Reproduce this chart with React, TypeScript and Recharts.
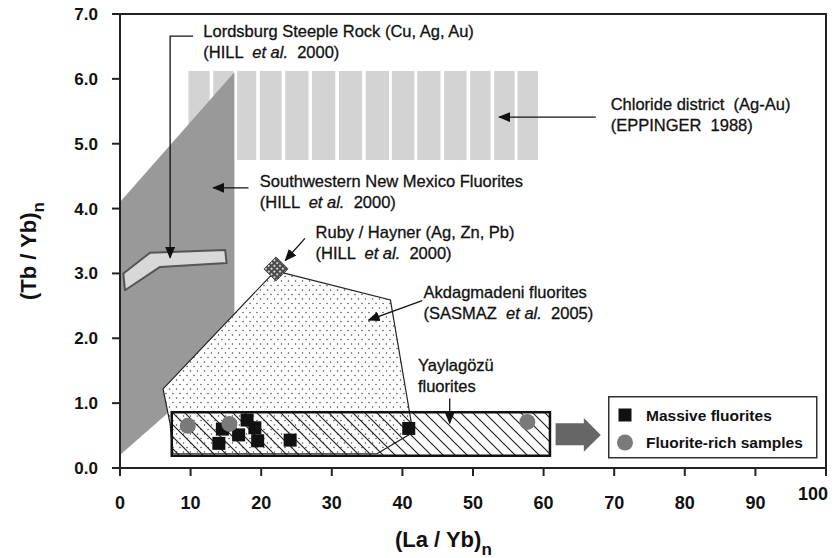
import React from "react";
import { ScatterChart, Scatter, XAxis, YAxis, Legend } from "recharts";

const FONT = "'Liberation Sans', Arial, Helvetica, sans-serif";

type Pt = { x: number; y: number };

const xTicks = [0, 10, 20, 30, 40, 50, 60, 70, 80, 90, 100];
const yTicks = [0, 1, 2, 3, 4, 5, 6, 7];

// Chloride district field: vertical bands, each one an (La/Yb) range
const chlorideBands: [number, number][] = [
  [9.7, 12.7], [13.2, 16.1], [16.6, 19.3], [19.8, 22.9], [23.4, 26.7],
  [27.2, 30.5], [31.0, 34.3], [34.8, 38.1], [38.5, 41.7], [42.1, 45.4],
  [45.9, 49.1], [49.6, 52.5], [53.0, 55.9], [56.3, 59.2],
];
const chlorideLow = 4.75;
const chlorideHigh = 6.12;

const swNewMexico: Pt[] = [
  { x: 0, y: 0.2 }, { x: 0, y: 4.1 }, { x: 16.2, y: 6.1 }, { x: 16.2, y: 1.75 },
];

const lordsburg: Pt[] = [
  { x: 0.47, y: 3.0 }, { x: 4.26, y: 3.32 }, { x: 14.9, y: 3.36 },
  { x: 15.1, y: 3.16 }, { x: 5.67, y: 3.1 }, { x: 0.71, y: 2.74 },
];

const akdagmadeni: Pt[] = [
  { x: 22.0, y: 3.04 }, { x: 38.3, y: 2.59 }, { x: 41.5, y: 0.55 },
  { x: 36.4, y: 0.22 }, { x: 7.5, y: 0.22 }, { x: 7.1, y: 0.68 }, { x: 6.1, y: 1.22 },
];

const yaylagozu: Pt[] = [
  { x: 7.33, y: 0.19 }, { x: 7.33, y: 0.86 }, { x: 60.9, y: 0.86 }, { x: 60.9, y: 0.19 },
];

const rubyHayner: Pt[] = [{ x: 22.1, y: 3.07 }];

const bigArrow: Pt[] = [
  { x: 61.7, y: 0.69 }, { x: 65.7, y: 0.69 }, { x: 65.7, y: 0.77 }, { x: 68.1, y: 0.51 },
  { x: 65.7, y: 0.25 }, { x: 65.7, y: 0.35 }, { x: 61.7, y: 0.35 },
];

const massive: Pt[] = [
  { x: 14.0, y: 0.38 }, { x: 14.5, y: 0.6 }, { x: 16.8, y: 0.51 }, { x: 18.0, y: 0.74 },
  { x: 19.1, y: 0.62 }, { x: 19.5, y: 0.42 }, { x: 24.1, y: 0.43 }, { x: 40.9, y: 0.61 },
];

const fluoriteRich: Pt[] = [
  { x: 9.6, y: 0.65 }, { x: 15.5, y: 0.68 }, { x: 57.7, y: 0.71 },
];

const pointers: Pt[][] = [
  [{ x: 10.35, y: 6.66 }, { x: 7.1, y: 6.66 }, { x: 7.1, y: 3.24 }],
  [{ x: 67.4, y: 5.41 }, { x: 53.7, y: 5.41 }],
  [{ x: 18.2, y: 4.32 }, { x: 13.2, y: 4.32 }],
  [{ x: 26.2, y: 3.54 }, { x: 23.4, y: 3.2 }],
  [{ x: 42.8, y: 2.58 }, { x: 35.2, y: 2.28 }],
  [{ x: 46.7, y: 1.07 }, { x: 46.7, y: 0.69 }],
];

// *...* marks italic
const notes = [
  { x: 11.8, y: 6.65, lines: ["Lordsburg Steeple Rock (Cu, Ag, Au)", "(HILL  *et al.*  2000)"] },
  { x: 69.5, y: 5.52, lines: ["Chloride district  (Ag-Au)", "(EPPINGER  1988)"] },
  { x: 19.8, y: 4.33, lines: ["Southwestern New Mexico Fluorites", "(HILL  *et al.*  2000)"] },
  { x: 27.7, y: 3.54, lines: ["Ruby / Hayner (Ag, Zn, Pb)", "(HILL  *et al.*  2000)"] },
  { x: 43.0, y: 2.62, lines: ["Akdagmadeni fluorites", "(SASMAZ  *et al.*  2005)"] },
  { x: 42.2, y: 1.5, lines: ["Yaylagözü", "fluorites"] },
];

const frame: Pt[] = [{ x: 0, y: 0 }, { x: 0, y: 7 }, { x: 100, y: 7 }, { x: 100, y: 0 }];

const chlorideVertices = chlorideBands.flatMap(([a, b]) => [
  { x: a, y: chlorideLow },
  { x: a, y: chlorideHigh },
  { x: b, y: chlorideHigh },
  { x: b, y: chlorideLow },
]);

const PatternDefs = () => (
  <defs>
    <pattern id="dots" patternUnits="userSpaceOnUse" width="7" height="9">
      <rect width="7" height="9" fill="#fff" />
      <circle cx="1.5" cy="2" r="0.75" fill="#444" />
      <circle cx="5" cy="6.5" r="0.75" fill="#444" />
    </pattern>
    <pattern id="hatch" patternUnits="userSpaceOnUse" width="12" height="12">
      <path d="M-3,-3 L15,15 M-3,9 L3,15 M9,-3 L15,3" stroke="#222" strokeWidth="1.2" />
    </pattern>
    <pattern id="mesh" patternUnits="userSpaceOnUse" width="4" height="4" patternTransform="rotate(45)">
      <rect width="4" height="4" fill="#4a4a4a" />
      <rect x="1" y="1" width="2" height="2" fill="#d0d0d0" />
    </pattern>
    <marker id="arrowHead" viewBox="0 0 12 10" refX="11" refY="5" markerWidth="12" markerHeight="10"
      markerUnits="userSpaceOnUse" orient="auto">
      <path d="M0,0 L12,5 L0,10 Z" fill="#111" />
    </marker>
  </defs>
);

const toPoints = (pts: Pt[]) => pts.map((p) => `${p.x},${p.y}`).join(" ");

const polygonLine =
  (style: React.SVGProps<SVGPolygonElement>, groupSize = 0, withDefs = false) =>
  (props: any) => {
    const pts: Pt[] = props.points ?? [];
    const size = groupSize || pts.length || 1;
    const groups: Pt[][] = [];
    for (let i = 0; i < pts.length; i += size) groups.push(pts.slice(i, i + size));
    return (
      <g>
        {withDefs && <PatternDefs />}
        {groups.map((g, i) => (
          <polygon key={i} points={toPoints(g)} {...style} />
        ))}
      </g>
    );
  };

const pointerLine = (props: any) => (
  <polyline
    points={toPoints(props.points ?? [])}
    fill="none"
    stroke="#111"
    strokeWidth={1.3}
    markerEnd="url(#arrowHead)"
  />
);

const noShape = () => <g />;

const squareShape = (p: any) => (
  <rect x={p.cx - 6.5} y={p.cy - 6.5} width={13} height={13} fill="#111" />
);

const circleShape = (p: any) => <circle cx={p.cx} cy={p.cy} r={8} fill="#7a7a7a" />;

const diamondShape = (p: any) => {
  const { cx, cy } = p;
  const r = 12;
  return (
    <polygon
      points={`${cx},${cy - r} ${cx + r},${cy} ${cx},${cy + r} ${cx - r},${cy}`}
      fill="url(#mesh)"
      stroke="#444"
      strokeWidth={1}
    />
  );
};

const richLine = (line: string) =>
  line.split("*").map((seg, i) => (
    <tspan key={i} fontStyle={i % 2 ? "italic" : "normal"}>
      {seg}
    </tspan>
  ));

const noteShape = (p: any) => {
  const d = p.payload ?? p;
  return (
    <text
      x={p.cx}
      y={p.cy}
      fontFamily={FONT}
      fontSize={16.5}
      fill="#111"
      stroke="#111"
      strokeWidth={0.3}
      style={{ whiteSpace: "pre" }}
    >
      {d.lines.map((line: string, i: number) => (
        <tspan key={i} x={p.cx} dy={i === 0 ? 0 : 21}>
          {richLine(line)}
        </tspan>
      ))}
    </text>
  );
};

const XTick = (p: any) => {
  const v = p.payload.value;
  const last = v === 100;
  return (
    <text
      x={p.x + (last ? -13 : 0)}
      y={p.y + (last ? -8.5 : 0)}
      dy="0.71em"
      textAnchor="middle"
      fontFamily={FONT}
      fontSize={18}
      fontWeight={700}
      fill="#111"
    >
      {v}
    </text>
  );
};

const XTitle = (props: any) => {
  const vb = props.viewBox;
  return (
    <text x={vb.x + 275} y={vb.y + 79} fontFamily={FONT} fontWeight={700} fontSize={22} fill="#111">
      (La / Yb)
      <tspan fontSize={17} dy={8}>n</tspan>
    </text>
  );
};

const YTitle = (props: any) => {
  const vb = props.viewBox;
  const x = vb.x + 36;
  const y = vb.y + 286;
  return (
    <text x={x} y={y} transform={`rotate(-90 ${x} ${y})`} fontFamily={FONT} fontWeight={700} fontSize={22} fill="#111">
      (Tb / Yb)
      <tspan fontSize={17} dy={8}>n</tspan>
    </text>
  );
};

const LegendBox = () => (
  <svg width={210} height={63} style={{ display: "block" }}>
    <rect x={0.75} y={0.75} width={208} height={61} fill="#fff" stroke="#333" strokeWidth={1.5} />
    <rect x={10.5} y={12.5} width={13} height={13} fill="#111" />
    <circle cx={17} cy={46.5} r={8} fill="#7a7a7a" />
    <text x={38} y={24.5} fontFamily={FONT} fontWeight={700} fontSize={15.5} fill="#111">
      Massive fluorites
    </text>
    <text x={38} y={52} fontFamily={FONT} fontWeight={700} fontSize={15.5} fill="#111">
      Fluorite-rich samples
    </text>
  </svg>
);

const axisStroke = { stroke: "#222", strokeWidth: 2 };

export default function App() {
  return (
    <div style={{ position: "absolute", left: 0, top: 0, background: "#fff" }}>
      <ScatterChart width={840} height={558} margin={{ top: 14, right: 14, bottom: 0, left: 0 }}>
        <XAxis
          type="number"
          dataKey="x"
          domain={[0, 100]}
          ticks={xTicks}
          interval={0}
          height={90}
          axisLine={axisStroke}
          tickLine={axisStroke}
          tickSize={8}
          tickMargin={20}
          tick={XTick}
          label={{ content: XTitle }}
        />
        <YAxis
          type="number"
          dataKey="y"
          domain={[0, 7]}
          ticks={yTicks}
          interval={0}
          width={120}
          axisLine={axisStroke}
          tickLine={axisStroke}
          tickSize={8}
          tickMargin={14}
          tickFormatter={(v: number) => v.toFixed(1)}
          tick={{ fontFamily: FONT, fontSize: 17, fontWeight: 700, fill: "#111" }}
          label={{ content: YTitle }}
        />
        <Legend
          layout="vertical"
          verticalAlign="middle"
          align="center"
          content={LegendBox}
          wrapperStyle={{ left: 608, top: 396, width: 210, height: 63 }}
        />
        <Scatter data={chlorideVertices} shape={noShape} line={polygonLine({ fill: "#d3d3d3" }, 4, true)}
          legendType="none" isAnimationActive={false} />
        <Scatter data={swNewMexico} shape={noShape} line={polygonLine({ fill: "#999" })}
          legendType="none" isAnimationActive={false} />
        <Scatter data={lordsburg} shape={noShape}
          line={polygonLine({ fill: "#d8d8d8", stroke: "#555", strokeWidth: 2, strokeLinejoin: "round" })}
          legendType="none" isAnimationActive={false} />
        <Scatter data={akdagmadeni} shape={noShape}
          line={polygonLine({ fill: "url(#dots)", stroke: "#222", strokeWidth: 1.2 })}
          legendType="none" isAnimationActive={false} />
        <Scatter data={rubyHayner} shape={diamondShape} legendType="none" isAnimationActive={false} />
        <Scatter data={yaylagozu} shape={noShape}
          line={polygonLine({ fill: "url(#hatch)", stroke: "#111", strokeWidth: 2.5 })}
          legendType="none" isAnimationActive={false} />
        <Scatter data={bigArrow} shape={noShape} line={polygonLine({ fill: "#666" })}
          legendType="none" isAnimationActive={false} />
        <Scatter name="Massive fluorites" data={massive} shape={squareShape} isAnimationActive={false} />
        <Scatter name="Fluorite-rich samples" data={fluoriteRich} shape={circleShape} isAnimationActive={false} />
        {pointers.map((pts, i) => (
          <Scatter key={`ptr-${i}`} data={pts} shape={noShape} line={pointerLine}
            legendType="none" isAnimationActive={false} />
        ))}
        <Scatter data={notes} shape={noteShape} legendType="none" isAnimationActive={false} />
        <Scatter data={frame} shape={noShape}
          line={polygonLine({ fill: "none", stroke: "#222", strokeWidth: 2 })}
          legendType="none" isAnimationActive={false} />
      </ScatterChart>
    </div>
  );
}
